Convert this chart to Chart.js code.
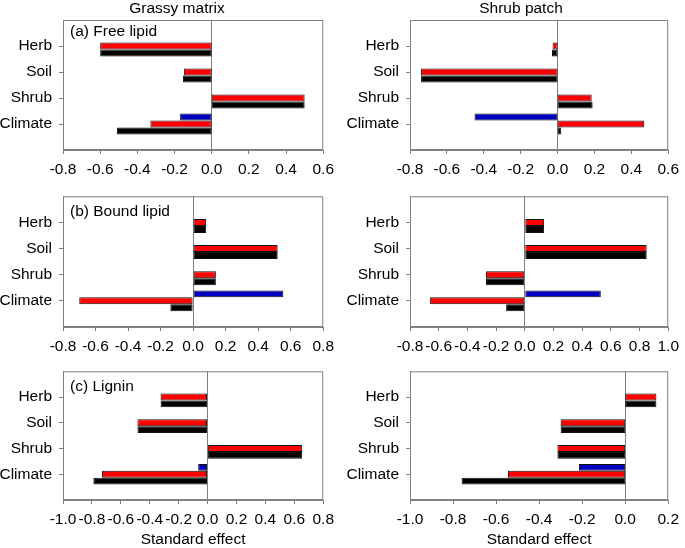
<!DOCTYPE html>
<html>
<head>
<meta charset="utf-8">
<script src="https://cdn.jsdelivr.net/npm/chart.js@4.4.1/dist/chart.umd.min.js"></script>
<style>
  body { margin: 0; background: #fff; }
  #fig { position: relative; width: 685px; height: 548px; overflow: hidden; }
  #fig canvas { position: absolute; }
</style>
</head>
<body>
<div id="fig">
  <canvas id="freeGrassy" width="340" height="180" style="left:0;top:0"></canvas>
  <canvas id="freeShrub" width="345" height="180" style="left:340px;top:0"></canvas>
  <canvas id="boundGrassy" width="340" height="177" style="left:0;top:180px"></canvas>
  <canvas id="boundShrub" width="345" height="177" style="left:340px;top:180px"></canvas>
  <canvas id="ligninGrassy" width="340" height="194" style="left:0;top:355px"></canvas>
  <canvas id="ligninShrub" width="345" height="194" style="left:340px;top:355px"></canvas>
</div>
<script>
const categories = ['Herb', 'Soil', 'Shrub', 'Climate'];

// (a) Free lipid
const freeGrassyBlue  = [null, null, null, -0.17];
const freeGrassyRed   = [-0.60, -0.15, 0.50, -0.33];
const freeGrassyBlack = [-0.60, -0.155, 0.50, -0.51];
const freeShrubBlue   = [null, null, null, -0.45];
const freeShrubRed    = [-0.027, -0.74, 0.185, 0.47];
const freeShrubBlack  = [-0.03, -0.74, 0.19, 0.02];

// (b) Bound lipid
const boundGrassyBlue  = [null, null, null, 0.555];
const boundGrassyRed   = [0.08, 0.52, 0.14, -0.70];
const boundGrassyBlack = [0.08, 0.52, 0.14, -0.14];
const boundShrubBlue   = [null, null, null, 0.53];
const boundShrubRed    = [0.135, 0.85, -0.27, -0.66];
const boundShrubBlack  = [0.135, 0.85, -0.27, -0.13];

// (c) Lignin
const ligninGrassyBlue  = [null, null, null, -0.065];
const ligninGrassyRed   = [-0.325, -0.485, 0.655, -0.73];
const ligninGrassyBlack = [-0.325, -0.485, 0.655, -0.79];
const ligninShrubBlue   = [null, null, null, -0.215];
const ligninShrubRed    = [0.145, -0.30, -0.315, -0.545];
const ligninShrubBlack  = [0.145, -0.30, -0.315, -0.76];

// x-axis ranges (tick labels run from min to max in steps of 0.2)
const freeGrassyRange   = [-0.8, 0.6];
const freeShrubRange    = [-0.8, 0.6];
const boundGrassyRange  = [-0.8, 0.8];
const boundShrubRange   = [-0.8, 1.0];
const ligninGrassyRange = [-1.0, 0.8];
const ligninShrubRange  = [-1.0, 0.2];

const FONT = '"Liberation Sans", Arial, sans-serif';
const GREY = '#808080';
Chart.defaults.font.family = FONT;
Chart.defaults.font.size = 15.5;
Chart.defaults.color = '#000';

// blank slots above and below so the four groups sit one step in from the frame
const padded = arr => [null, ...arr, null];

// frame, panel label, column heading
const panelDecor = {
  id: 'panelDecor',
  beforeDatasetsDraw(chart) {
    const { ctx, chartArea: a } = chart;
    ctx.save();
    ctx.strokeStyle = GREY;
    ctx.lineWidth = 1;
    ctx.strokeRect(a.left + 0.5, a.top + 0.5, a.right - a.left - 1, a.bottom - a.top - 1);
    ctx.restore();
  },
  afterDraw(chart, args, opts) {
    const { ctx, chartArea: a } = chart;
    ctx.save();
    ctx.fillStyle = '#000';
    ctx.font = '15.5px ' + FONT;
    ctx.textBaseline = 'middle';
    if (opts.label) {
      ctx.textAlign = 'left';
      ctx.fillText(opts.label, a.left + 7, a.top + opts.labelY);
    }
    if (opts.heading) {
      ctx.textAlign = 'center';
      ctx.fillText(opts.heading, opts.headingX, 9);
    }
    ctx.restore();
  }
};

function makePanel(id, blue, red, black, range, cfg) {
  const bar = (data, color) => ({
    data: padded(data),
    backgroundColor: color,
    borderColor: '#111',
    borderWidth: 1,
    borderSkipped: false
  });
  return new Chart(document.getElementById(id), {
    type: 'bar',
    data: {
      labels: padded(categories).map(c => c || ''),
      datasets: [bar(blue, '#0000c0'), bar(red, '#ff0000'), bar(black, '#000000')]
    },
    plugins: [panelDecor],
    options: {
      indexAxis: 'y',
      responsive: false,
      animation: false,
      devicePixelRatio: 1,
      barPercentage: 1,
      categoryPercentage: 0.8,
      layout: { padding: { top: cfg.top, right: cfg.right, left: 0, bottom: 0 } },
      plugins: {
        legend: { display: false },
        tooltip: { enabled: false },
        panelDecor: { label: cfg.label, labelY: cfg.labelY, heading: cfg.heading, headingX: cfg.headingX }
      },
      scales: {
        x: {
          type: 'linear',
          min: range[0],
          max: range[1],
          afterFit: s => { s.height = cfg.xHeight; },
          border: { display: true, color: GREY, width: 1 },
          grid: {
            color: c => (c.tick && Math.abs(c.tick.value) < 1e-9 ? GREY : 'rgba(0,0,0,0)'),
            tickColor: GREY,
            tickLength: 4
          },
          ticks: {
            stepSize: 0.2,
            autoSkip: false,
            maxRotation: 0,
            minRotation: 0,
            padding: 6,
            callback: v => {
              const r = Math.round(v * 10) / 10;
              return (r === 0 ? 0 : r).toFixed(1);
            }
          },
          title: {
            display: !!cfg.xTitle,
            text: cfg.xTitle || '',
            padding: { top: 0, bottom: 0 },
            font: { size: 15.5 }
          }
        },
        y: {
          type: 'category',
          offset: false,
          afterFit: s => { s.width = cfg.yWidth; },
          border: { display: true, color: GREY, width: 1 },
          grid: {
            offset: false,
            drawOnChartArea: false,
            tickColor: c => (c.index === 0 || c.index === categories.length + 1 ? 'rgba(0,0,0,0)' : GREY),
            tickLength: 4
          },
          ticks: { autoSkip: false, padding: 7 }
        }
      }
    }
  });
}

makePanel('freeGrassy', freeGrassyBlue, freeGrassyRed, freeGrassyBlack, freeGrassyRange,
  { top: 20, right: 13, yWidth: 63, xHeight: 30, label: '(a) Free lipid', labelY: 12, heading: 'Grassy matrix', headingX: 177 });
makePanel('freeShrub', freeShrubBlue, freeShrubRed, freeShrubBlack, freeShrubRange,
  { top: 20, right: 12, yWidth: 70, xHeight: 30, heading: 'Shrub patch', headingX: 181 });
makePanel('boundGrassy', boundGrassyBlue, boundGrassyRed, boundGrassyBlack, boundGrassyRange,
  { top: 15, right: 13, yWidth: 63, xHeight: 30, label: '(b) Bound lipid', labelY: 15 });
makePanel('boundShrub', boundShrubBlue, boundShrubRed, boundShrubBlack, boundShrubRange,
  { top: 15, right: 12, yWidth: 70, xHeight: 30 });
makePanel('ligninGrassy', ligninGrassyBlue, ligninGrassyRed, ligninGrassyBlack, ligninGrassyRange,
  { top: 15, right: 13, yWidth: 63, xHeight: 49, label: '(c) Lignin', labelY: 15, xTitle: 'Standard effect' });
makePanel('ligninShrub', ligninShrubBlue, ligninShrubRed, ligninShrubBlack, ligninShrubRange,
  { top: 15, right: 12, yWidth: 70, xHeight: 49, xTitle: 'Standard effect' });
</script>
</body>
</html>
